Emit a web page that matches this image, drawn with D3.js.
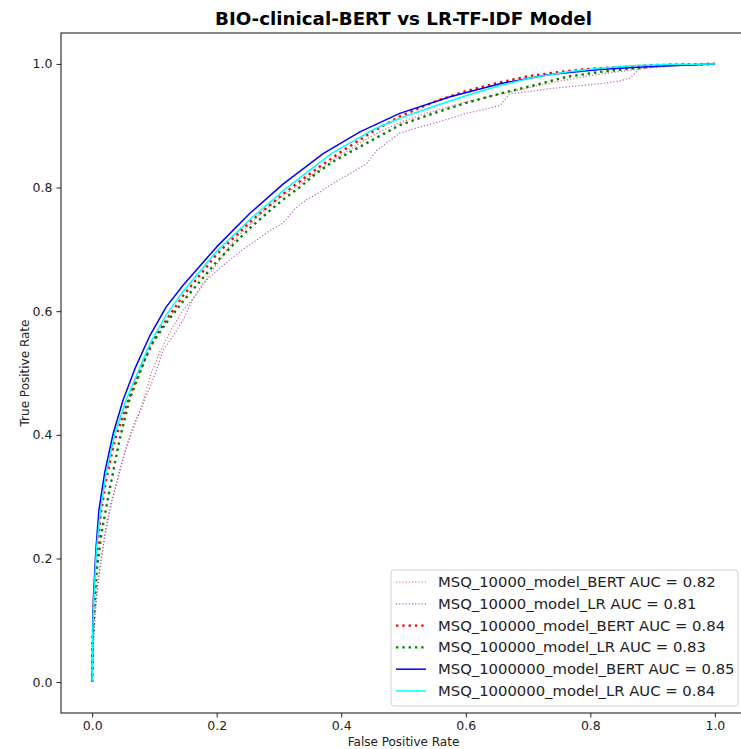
<!DOCTYPE html>
<html>
<head>
<meta charset="utf-8">
<script src="https://cdn.jsdelivr.net/npm/d3@7/dist/d3.min.js"></script>
<style>
  html, body { margin: 0; padding: 0; background: #fff; }
  svg { display: block; font-family: "DejaVu Sans", sans-serif; }
</style>
</head>
<body>
<svg id="chart" width="741" height="749"></svg>
<script>
// ---------------- DATA ----------------
const title = "BIO-clinical-BERT vs LR-TF-IDF Model";
const xLabel = "False Positive Rate";
const yLabel = "True Positive Rate";
const xTicks = [0.0, 0.2, 0.4, 0.6, 0.8, 1.0];
const yTicks = [0.0, 0.2, 0.4, 0.6, 0.8, 1.0];

const seriesNames = [
  "MSQ_10000_model_BERT AUC = 0.82",
  "MSQ_10000_model_LR AUC = 0.81",
  "MSQ_100000_model_BERT AUC = 0.84",
  "MSQ_100000_model_LR AUC = 0.83",
  "MSQ_1000000_model_BERT AUC = 0.85",
  "MSQ_1000000_model_LR AUC = 0.84"
];

// MSQ_10000_model_BERT
const fpr10kBert = [0, 0.002, 0.005, 0.01, 0.016, 0.022, 0.03, 0.038, 0.045, 0.051, 0.057, 0.066, 0.078, 0.095, 0.109, 0.128, 0.146, 0.16, 0.173, 0.189, 0.205, 0.216, 0.235, 0.255, 0.275, 0.3, 0.325, 0.35, 0.375, 0.4, 0.43, 0.46, 0.494, 0.53, 0.57, 0.61, 0.65, 0.7, 0.75, 0.8, 0.85, 0.9, 0.95, 1];
const tpr10kBert = [0, 0.07, 0.12, 0.171, 0.21, 0.25, 0.29, 0.315, 0.343, 0.365, 0.387, 0.415, 0.44, 0.5, 0.535, 0.572, 0.602, 0.618, 0.634, 0.661, 0.682, 0.699, 0.722, 0.742, 0.762, 0.782, 0.8, 0.818, 0.836, 0.853, 0.872, 0.889, 0.905, 0.918, 0.93, 0.941, 0.95, 0.961, 0.972, 0.981, 0.988, 0.994, 0.998, 1];

// MSQ_10000_model_LR
const fpr10kLr = [0, 0.002, 0.005, 0.009, 0.015, 0.021, 0.028, 0.036, 0.046, 0.055, 0.066, 0.077, 0.088, 0.1, 0.114, 0.13, 0.146, 0.162, 0.178, 0.2, 0.221, 0.242, 0.264, 0.285, 0.306, 0.325, 0.344, 0.365, 0.387, 0.41, 0.441, 0.457, 0.494, 0.52, 0.548, 0.575, 0.601, 0.628, 0.655, 0.671, 0.7, 0.735, 0.775, 0.815, 0.845, 0.864, 0.88, 0.91, 0.944, 1];
const tpr10kLr = [0, 0.06, 0.11, 0.155, 0.2, 0.24, 0.275, 0.31, 0.35, 0.38, 0.41, 0.44, 0.465, 0.495, 0.537, 0.56, 0.586, 0.62, 0.645, 0.665, 0.683, 0.7, 0.715, 0.73, 0.742, 0.765, 0.78, 0.792, 0.807, 0.82, 0.839, 0.86, 0.888, 0.896, 0.904, 0.912, 0.92, 0.926, 0.933, 0.952, 0.955, 0.96, 0.964, 0.968, 0.972, 0.977, 0.993, 0.995, 0.997, 1];

// MSQ_100000_model_BERT
const fpr100kBert = [0, 0.001, 0.003, 0.007, 0.013, 0.022, 0.036, 0.055, 0.075, 0.103, 0.146, 0.2, 0.253, 0.306, 0.36, 0.4, 0.45, 0.494, 0.55, 0.6, 0.65, 0.7, 0.75, 0.8, 0.85, 0.9, 0.95, 1];
const tpr100kBert = [0, 0.075, 0.13, 0.205, 0.265, 0.325, 0.39, 0.448, 0.5, 0.562, 0.625, 0.692, 0.744, 0.789, 0.83, 0.858, 0.89, 0.915, 0.939, 0.956, 0.969, 0.98, 0.987, 0.992, 0.995, 0.998, 0.999, 1];

// MSQ_100000_model_LR
const fpr100kLr = [0, 0.001, 0.003, 0.007, 0.015, 0.028, 0.044, 0.06, 0.093, 0.119, 0.146, 0.173, 0.2, 0.226, 0.253, 0.28, 0.306, 0.334, 0.36, 0.387, 0.419, 0.494, 0.548, 0.601, 0.655, 0.708, 0.762, 0.815, 0.869, 0.922, 1];
const tpr100kLr = [0, 0.07, 0.107, 0.177, 0.241, 0.311, 0.392, 0.457, 0.543, 0.581, 0.616, 0.648, 0.68, 0.707, 0.734, 0.758, 0.78, 0.801, 0.823, 0.842, 0.86, 0.901, 0.92, 0.937, 0.952, 0.965, 0.979, 0.987, 0.993, 0.998, 1];

// MSQ_1000000_model_BERT
const fpr1mBert = [0, 0.001, 0.002, 0.006, 0.011, 0.02, 0.034, 0.05, 0.07, 0.093, 0.119, 0.146, 0.2, 0.253, 0.307, 0.371, 0.43, 0.494, 0.575, 0.655, 0.735, 0.815, 0.896, 1];
const tpr1mBert = [0, 0.085, 0.134, 0.214, 0.279, 0.338, 0.403, 0.457, 0.51, 0.561, 0.607, 0.642, 0.704, 0.758, 0.806, 0.855, 0.89, 0.92, 0.947, 0.968, 0.983, 0.991, 0.996, 1];

// MSQ_1000000_model_LR
const fpr1mLr = [0, 0.001, 0.003, 0.007, 0.013, 0.022, 0.036, 0.055, 0.075, 0.093, 0.119, 0.146, 0.2, 0.253, 0.307, 0.384, 0.45, 0.494, 0.548, 0.601, 0.655, 0.708, 0.762, 0.815, 0.869, 0.922, 1];
const tpr1mLr = [0, 0.08, 0.14, 0.215, 0.275, 0.335, 0.4, 0.457, 0.505, 0.548, 0.594, 0.632, 0.697, 0.748, 0.795, 0.855, 0.893, 0.912, 0.931, 0.949, 0.965, 0.978, 0.987, 0.993, 0.997, 0.999, 1];

const seriesFpr = [fpr10kBert, fpr10kLr, fpr100kBert, fpr100kLr, fpr1mBert, fpr1mLr];
const seriesTpr = [tpr10kBert, tpr10kLr, tpr100kBert, tpr100kLr, tpr1mBert, tpr1mLr];

// ---------------- STYLE ----------------
const styles = [
  { color: "#c8585a", width: 1.2, dash: "1.2,2.0", opacity: 0.85 },
  { color: "#a445b8", width: 1.2, dash: "1.2,2.0", opacity: 0.85 },
  { color: "#ff0000", width: 2.4, dash: "2.4,3.9", opacity: 1 },
  { color: "#008000", width: 2.4, dash: "2.4,3.9", opacity: 1 },
  { color: "#0000ff", width: 1.5, dash: null, opacity: 1 },
  { color: "#00ffff", width: 1.5, dash: null, opacity: 1 }
];

const svg = d3.select("#chart");
const axL = 61, axR = 746, axT = 33, axB = 713;

const x = d3.scaleLinear().domain([-0.05, 1.05]).range([axL, axR]);
const y = d3.scaleLinear().domain([-0.05, 1.05]).range([axB, axT]);

// title
svg.append("text")
  .attr("x", (axL + axR) / 2).attr("y", 25)
  .attr("text-anchor", "middle")
  .attr("font-size", 17).attr("font-weight", "bold")
  .attr("fill", "#000")
  .attr("textLength", 377).attr("lengthAdjust", "spacingAndGlyphs")
  .text(title);

// lines
const plot = svg.append("g");
seriesFpr.forEach((fpr, i) => {
  const pts = fpr.map((v, j) => [v, seriesTpr[i][j]]);
  const line = d3.line().x(d => x(d[0])).y(d => y(d[1]));
  const p = plot.append("path")
    .attr("d", line(pts))
    .attr("fill", "none")
    .attr("stroke", styles[i].color)
    .attr("stroke-width", styles[i].width)
    .attr("stroke-opacity", styles[i].opacity)
    .attr("stroke-linejoin", "round");
  if (styles[i].dash) p.attr("stroke-dasharray", styles[i].dash);
});

// axes
const xAxis = d3.axisBottom(x).tickValues(xTicks).tickFormat(d3.format(".1f")).tickSize(4.5).tickPadding(4);
const yAxis = d3.axisLeft(y).tickValues(yTicks).tickFormat(d3.format(".1f")).tickSize(4.5).tickPadding(4);

const gx = svg.append("g").attr("transform", `translate(0,${axB})`).call(xAxis);
const gy = svg.append("g").attr("transform", `translate(${axL},0)`).call(yAxis);
[gx, gy].forEach(g => {
  g.select(".domain").remove();
  g.selectAll("text").attr("font-size", 12.5).attr("fill", "#222").attr("font-family", "DejaVu Sans, sans-serif");
  g.selectAll("line").attr("stroke", "#222").attr("stroke-width", 1);
});

// frame
svg.append("rect")
  .attr("x", axL).attr("y", axT)
  .attr("width", axR - axL).attr("height", axB - axT)
  .attr("fill", "none").attr("stroke", "#222").attr("stroke-width", 1.1);

// axis labels
svg.append("text")
  .attr("x", (axL + axR) / 2).attr("y", 746)
  .attr("text-anchor", "middle").attr("font-size", 12).attr("fill", "#222")
  .text(xLabel);
svg.append("text")
  .attr("transform", `translate(29,${(axT + axB) / 2}) rotate(-90)`)
  .attr("text-anchor", "middle").attr("font-size", 12).attr("fill", "#222")
  .text(yLabel);

// legend
const lg = svg.append("g");
lg.append("rect")
  .attr("x", 391).attr("y", 570).attr("width", 347).attr("height", 136)
  .attr("rx", 3).attr("fill", "#fff").attr("fill-opacity", 0.85)
  .attr("stroke", "#d0d0d0").attr("stroke-width", 1);
seriesNames.forEach((name, i) => {
  const cy = 582 + i * 21.8;
  const l = lg.append("line")
    .attr("x1", 396).attr("x2", 426).attr("y1", cy).attr("y2", cy)
    .attr("stroke", styles[i].color)
    .attr("stroke-width", styles[i].width)
    .attr("stroke-opacity", styles[i].opacity);
  if (styles[i].dash) l.attr("stroke-dasharray", styles[i].dash);
  lg.append("text")
    .attr("x", 438).attr("y", cy + 5)
    .attr("font-size", 14.8).attr("fill", "#222")
    .text(name);
});
</script>
</body>
</html>
